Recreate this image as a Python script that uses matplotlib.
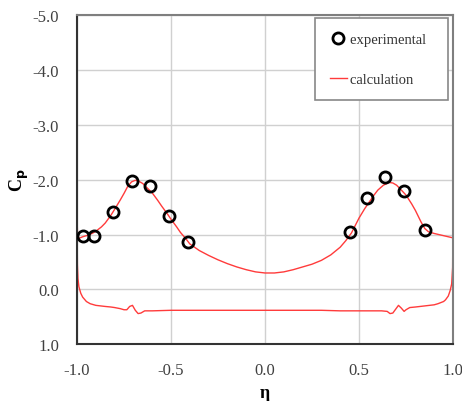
import numpy as np
import matplotlib
matplotlib.use("Agg")
import matplotlib.pyplot as plt

plt.rcParams['font.family'] = ['Liberation Serif', 'DejaVu Serif']

# measured pressure coefficient
eta_exp = [-0.97, -0.91, -0.81, -0.71, -0.61, -0.51, -0.41,
           0.45, 0.54, 0.64, 0.74, 0.85]
cp_exp = [-0.97, -0.97, -1.41, -1.98, -1.89, -1.33, -0.86,
          -1.04, -1.66, -2.05, -1.80, -1.09]

# computed distribution, suction side (left to right)
eta_upper = [-1.000, -0.997, -0.99, -0.97, -0.95, -0.92, -0.90, -0.87, -0.85,
             -0.82, -0.80, -0.77, -0.75, -0.73, -0.71, -0.69, -0.67, -0.65,
             -0.63, -0.60, -0.57, -0.55, -0.52, -0.50, -0.47, -0.45, -0.42,
             -0.40, -0.35, -0.30, -0.25, -0.20, -0.15, -0.10, -0.05, 0.00,
             0.05, 0.10, 0.15, 0.20, 0.25, 0.30, 0.35, 0.40, 0.43, 0.46,
             0.50, 0.53, 0.55, 0.58, 0.60, 0.63, 0.66, 0.68, 0.70, 0.72,
             0.75, 0.78, 0.80, 0.83, 0.85, 0.87, 0.90, 0.95, 1.00]
cp_upper = [-1.34, -0.96, -0.93, -0.96, -0.98, -1.02, -1.06, -1.14, -1.21,
            -1.35, -1.46, -1.63, -1.75, -1.88, -1.96, -1.99, -1.97, -1.93,
            -1.86, -1.76, -1.62, -1.52, -1.38, -1.28, -1.14, -1.04, -0.92,
            -0.83, -0.71, -0.62, -0.54, -0.47, -0.41, -0.36, -0.32, -0.30,
            -0.30, -0.32, -0.36, -0.41, -0.46, -0.53, -0.63, -0.77, -0.89, -1.03,
            -1.30, -1.47, -1.57, -1.72, -1.81, -1.90, -1.95, -1.94, -1.90, -1.83,
            -1.72, -1.56, -1.44, -1.23, -1.11, -1.05, -1.02, -0.98, -0.94]

# computed distribution, pressure side (right to left)
eta_lower = [1.000, 0.998, 0.993, 0.985, 0.975, 0.96, 0.95, 0.92, 0.90,
             0.85, 0.80, 0.77, 0.75, 0.74, 0.725, 0.71, 0.695, 0.68, 0.665,
             0.65, 0.62, 0.55, 0.50, 0.40, 0.30, 0.20, 0.10, 0.00, -0.10,
             -0.20, -0.30, -0.40, -0.50, -0.60, -0.64, -0.66, -0.675, -0.69,
             -0.705, -0.72, -0.735, -0.75, -0.77, -0.80, -0.82, -0.85, -0.90,
             -0.93, -0.95, -0.97, -0.98, -0.99, -0.995, -0.998, -1.000]
cp_lower = [-1.34, -0.40, -0.10, 0.02, 0.12, 0.19, 0.22, 0.26, 0.28,
            0.30, 0.32, 0.33, 0.37, 0.40, 0.34, 0.29, 0.36, 0.43, 0.44,
            0.40, 0.39, 0.39, 0.39, 0.39, 0.38, 0.38, 0.38, 0.38, 0.38,
            0.38, 0.38, 0.38, 0.38, 0.39, 0.39, 0.43, 0.44, 0.38,
            0.29, 0.31, 0.37, 0.37, 0.35, 0.33, 0.32, 0.31, 0.29,
            0.26, 0.22, 0.14, 0.07, -0.05, -0.20, -0.45, -1.34]

eta_calc = np.concatenate([eta_upper, eta_lower])
cp_calc = np.concatenate([cp_upper, cp_lower])

x_ticks = [-1.0, -0.5, 0.0, 0.5, 1.0]
y_ticks = [-5.0, -4.0, -3.0, -2.0, -1.0, 0.0, 1.0]

fig = plt.figure(figsize=(4.62, 4.02), dpi=100)
ax = fig.add_axes([0.1667, 0.141, 0.8138, 0.819])

ax.plot(eta_calc, cp_calc, color='#ff3b3b', lw=1.0, label='calculation', zorder=2)
ax.plot(eta_exp, cp_exp, 'o', ms=8, mfc='none', mec='black', mew=2.0,
        label='experimental', zorder=3)

ax.set_xlim(-1.0, 1.0)
ax.set_ylim(1.0, -5.0)
ax.set_xticks(x_ticks)
ax.set_yticks(y_ticks)
ax.set_xticklabels([f'{v:.1f}' for v in x_ticks])
ax.set_yticklabels([f'{v:.1f}' for v in y_ticks])
ax.tick_params(axis='both', length=0, labelsize=12, labelcolor='#404040')
ax.tick_params(axis='x', pad=13)
ax.tick_params(axis='y', pad=13)
ax.grid(True, color='#d0d0d0', lw=1.0)
ax.set_axisbelow(True)

for side in ['left', 'bottom']:
    ax.spines[side].set_color('#333333')
    ax.spines[side].set_linewidth(1.5)
for side in ['top', 'right']:
    ax.spines[side].set_color('#7f7f7f')
    ax.spines[side].set_linewidth(1.5)

ax.set_xlabel('η', fontsize=13, fontweight='bold', labelpad=4)
ax.set_ylabel('C$_\\mathbf{p}$', fontsize=13, fontweight='bold', labelpad=1)

handles, labels = ax.get_legend_handles_labels()
labels = [lab + '  ' for lab in labels]
leg = ax.legend(handles[::-1], labels[::-1], loc='upper right',
                bbox_to_anchor=(0.987, 0.99), fontsize=10.5, labelspacing=1.8,
                handlelength=1.2, handletextpad=0.2, borderpad=1.0,
                fancybox=False, framealpha=1, edgecolor='#888888',
                borderaxespad=0.0)
leg.get_frame().set_linewidth(1.2)
for t in leg.get_texts():
    t.set_color('#333333')

fig.savefig('out.png', dpi=100)
